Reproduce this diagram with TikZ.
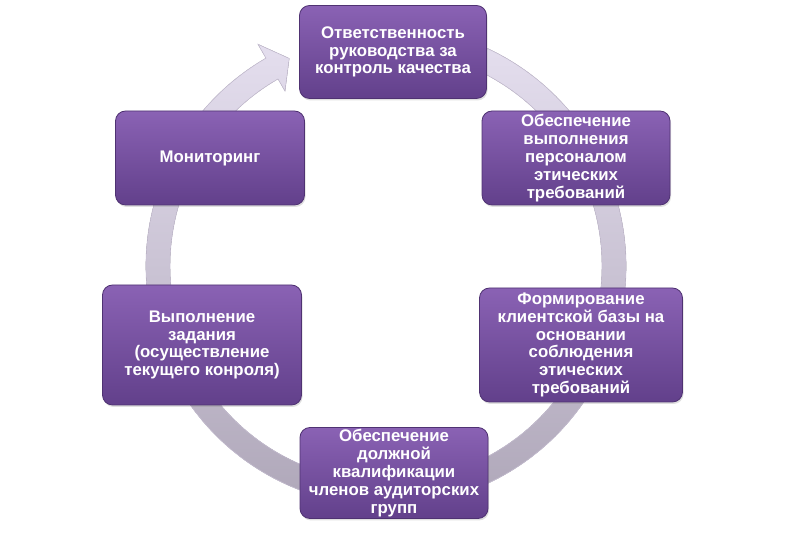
\documentclass[tikz,border=0pt]{standalone}
\usepackage{fontspec}
\setmainfont{Liberation Sans}
\usetikzlibrary{calc, shadows}

\definecolor{boxtop}{HTML}{8A62B4}
\definecolor{boxbot}{HTML}{62408B}
\definecolor{boxline}{HTML}{4F3272}
\definecolor{ringtop}{HTML}{E4DEEE}
\definecolor{ringbot}{HTML}{ABA3B5}
\definecolor{ringline}{HTML}{C9C1D5}

\tikzset{
    stage/.style = {draw = boxline, line width = 0.8pt, rounded corners = 10pt,
        top color = boxtop, bottom color = boxbot, text = white,
        font = \fontsize{16.8}{17.8}\selectfont\bfseries, align = center, inner sep = 2pt,
        drop shadow = {opacity = 0.25, shadow xshift = 1pt, shadow yshift = -2pt}}
}

\begin{document}
\begin{tikzpicture}[x = 1pt, y = 1pt]
            \useasboundingbox (0, 0) rectangle (790, 540);
            
            \coordinate (centre) at (386, 274);
            \coordinate (pos_lead) at (393, 488);
            \coordinate (pos_ethics) at (576, 382);
            \coordinate (pos_clients) at (581, 195);
            \coordinate (pos_staff) at (394, 67);
            \coordinate (pos_task) at (202, 195);
            \coordinate (pos_monitor) at (210, 382);
            
            \filldraw[draw = ringline, line width = 0.6pt, top color = ringtop, bottom color = ringbot]
                ($(centre) + (65:240)$) arc[start angle = 65, end angle = -240, radius = 240]
                -- ($(centre) + (-240:256)$) -- ($(centre) + (-245:229)$) -- ($(centre) + (-240:202)$)
                -- ($(centre) + (-240:216)$) arc[start angle = -240, end angle = 65, radius = 216] -- cycle;
            
            \node[stage, minimum width = 187pt, minimum height = 93pt] (lead) at (pos_lead)
                {Ответственность\\руководства за\\контроль качества};
            
            \node[stage, minimum width = 188pt, minimum height = 94pt] (ethics) at (pos_ethics)
                {Обеспечение\\выполнения\\персоналом\\этических\\требований};
            
            \node[stage, minimum width = 203pt, minimum height = 114pt] (clients) at (pos_clients)
                {Формирование\\клиентской базы на\\основании\\соблюдения\\этических\\требований};
            
            \node[stage, minimum width = 188pt, minimum height = 91pt] (staff) at (pos_staff)
                {Обеспечение\\должной\\квалификации\\членов аудиторских\\групп};
            
            \node[stage, minimum width = 199pt, minimum height = 120pt] (task) at (pos_task)
                {Выполнение\\задания\\(осуществление\\текущего конроля)};
            
            \node[stage, minimum width = 189pt, minimum height = 94pt] (monitor) at (pos_monitor)
                {Мониторинг};
        \end{tikzpicture}
\end{document}
